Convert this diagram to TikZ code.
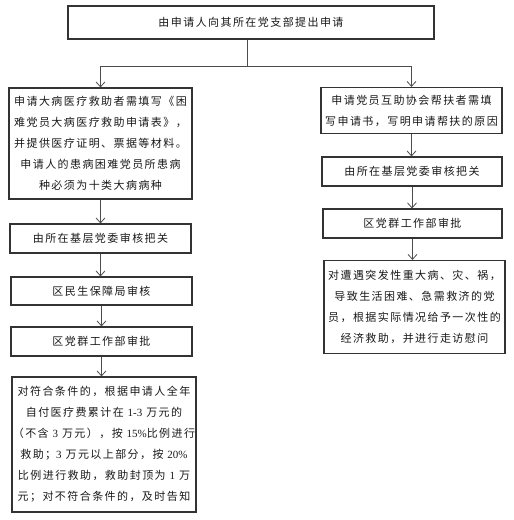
\documentclass[tikz,border=0pt]{standalone}
\usepackage{fontspec}
\setmainfont{Noto Sans CJK SC}[LetterSpace=13]
\newfontfamily\lat{Liberation Serif}
\usetikzlibrary{arrows.meta}
\begin{document}
\begin{tikzpicture}[x=1pt,y={(0pt,-1pt)},
  box/.style={draw=black!80, line width=1.1pt, inner sep=0pt, align=center,
    font=\fontsize{11}{21}\selectfont, text=black!90},
  arr/.style={draw=black!70, line width=0.8pt, -{Straight Barb[length=5pt,width=9pt]}},
  ln/.style={draw=black!70, line width=0.8pt}]
\useasboundingbox (0,0) rectangle (514,520);
\node[box, minimum width=366, minimum height=33] (top) at (251,22.5) {由申请人向其所在党支部提出申请};
% left column
\node[box, minimum width=183, minimum height=111] (l1) at (100.5,143.5)
  {申请大病医疗救助者需填写《困\\难党员大病医疗救助申请表》，\\并提供医疗证明、票据等材料。\\申请人的患病困难党员所患病\\种必须为十类大病病种};
\node[box, minimum width=181, minimum height=29] (l2) at (100.5,238.5) {由所在基层党委审核把关};
\node[box, minimum width=181, minimum height=28] (l3) at (101.5,291) {区民生保障局审核};
\node[box, minimum width=181, minimum height=29] (l4) at (101.5,341.5) {区党群工作部审批};
\node[box, minimum width=184, minimum height=135] (l5) at (104,444.5)
  {对符合条件的，根据申请人全年\\自付医疗费累计在 {\lat 1-3} 万元的\\（不含 {\lat 3} 万元），按 {\lat 15\%}比例进行\\救助；{\lat 3} 万元以上部分，按 {\lat 20\%}\\比例进行救助，救助封顶为 {\lat 1} 万\\元；对不符合条件的，及时告知};
% right column
\node[box, minimum width=181, minimum height=46] (r1) at (411.5,110.5)
  {申请党员互助协会帮扶者需填\\写申请书，写明申请帮扶的原因};
\node[box, minimum width=180, minimum height=29] (r2) at (412,171.5) {由所在基层党委审核把关};
\node[box, minimum width=179, minimum height=29] (r3) at (412.5,223.5) {区党群工作部审批};
\node[box, minimum width=181, minimum height=93] (r4) at (414.5,307)
  {对遭遇突发性重大病、灾、祸，\\导致生活困难、急需救济的党\\员，根据实际情况给予一次性的\\经济救助，并进行走访慰问};
% connectors
\coordinate (j) at (247,66);
\draw[ln] (j |- top.south) -- (j);
\draw[arr] (j) -| (l1.north);
\draw[arr] (j) -| (r1.north);
\draw[arr] (l1.south) -- (l1.south |- l2.north);
\draw[arr] (l2.south) -- (l2.south |- l3.north);
\draw[arr] (l3.south) -- (l3.south |- l4.north);
\draw[arr] (l4.south) -- (l4.south |- l5.north);
\draw[arr] (r1.south) -- (r1.south |- r2.north);
\draw[arr] (r2.south) -- (r2.south |- r3.north);
\draw[arr] (r3.south) -- (r3.south |- r4.north);
\end{tikzpicture}
\end{document}
